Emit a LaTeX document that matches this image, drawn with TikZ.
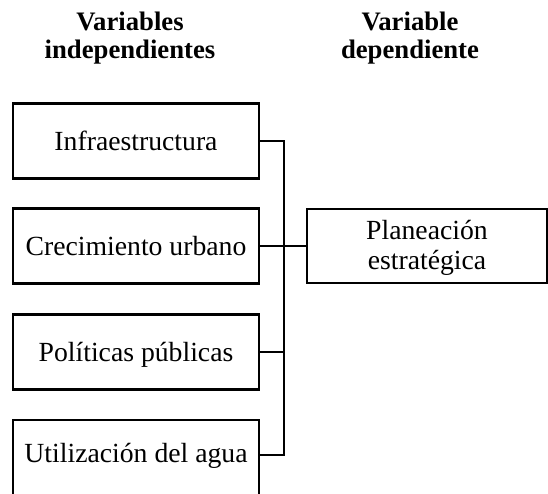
\documentclass[tikz,border=0pt]{standalone}
\usepackage{fontspec}
\setmainfont{Liberation Serif}
\begin{document}
\begin{tikzpicture}[x=1pt,y=-1pt,
  box/.style={draw,line width=2.3pt,outer sep=0pt,inner sep=0pt,minimum width=246pt,minimum height=75pt,
    font=\fontsize{27.7}{29}\selectfont,text height=19pt,text depth=0pt},
  rbox/.style={draw,line width=2.3pt,outer sep=0pt,inner sep=0pt,minimum width=240pt,minimum height=74pt,
    font=\fontsize{27.7}{30}\selectfont,align=center},
  head/.style={anchor=north,inner sep=0pt,align=center,font=\bfseries\fontsize{26.7}{27.5}\selectfont},
  conn/.style={line width=2.1pt,line join=miter}]
\useasboundingbox (0,0) rectangle (548,493);
\node[head] (h1) at (130,12) {Variables\\independientes};
\node[head] (h2) at (410,12) {Variable\\dependiente};
\node[box] (b1) at (136,141) {Infraestructura};
\node[box] (b2) at (136,246) {Crecimiento urbano};
\node[box] (b3) at (136,352) {Políticas públicas};
\node[box,anchor=north,minimum height=76pt,text depth=11pt] (b4) at (136,420) {Utilización del agua};
\node[rbox] (pl) at (427,246) {\rule{0pt}{23.5pt}Planeación\\estratégica};
\coordinate (btop) at (284,141);
\coordinate (bbot) at (284,455);
\draw[conn] (b1.east) -- (btop) -- (bbot) -- (bbot -| b4.east);
\draw[conn] (b2.east) -- (b2.east -| pl.west);
\draw[conn] (b3.east) -- (b3.east -| btop);
\end{tikzpicture}
\end{document}
